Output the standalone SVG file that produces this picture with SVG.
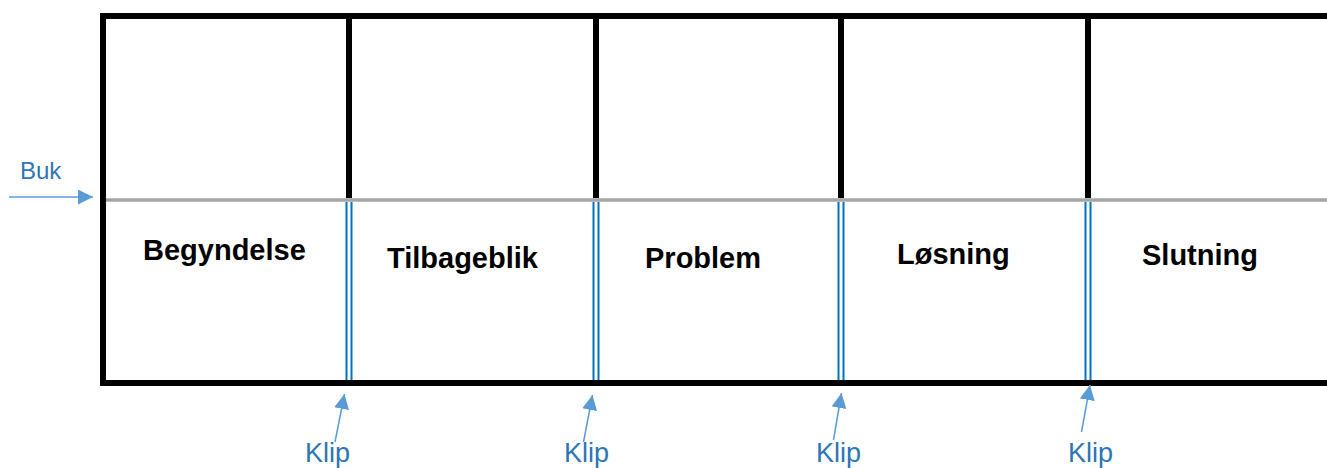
<svg xmlns="http://www.w3.org/2000/svg" width="1327" height="468" viewBox="0 0 1327 468">
<style>
.frame{stroke:#000;stroke-width:6;fill:none}
.fold{stroke:#A5A5A5;stroke-width:3.5;fill:none}
.cut{stroke:#0070C0;stroke-width:2;fill:none}
.lbl{font-family:"Liberation Sans",Arial,sans-serif;font-weight:bold;font-size:29px;fill:#000}
.note{font-family:"Liberation Sans",Arial,sans-serif;fill:#2E75B6}
.arr{stroke:#5B9BD5;stroke-width:1.5;fill:none;marker-end:url(#ah)}
</style>
<defs>
<marker id="ah" viewBox="0 0 15 15" refX="15" refY="7.5" markerWidth="15" markerHeight="15" markerUnits="userSpaceOnUse" orient="auto">
<path d="M0,0 L15,7.5 L0,15 z" fill="#5B9BD5"/>
</marker>
</defs>
<rect width="1327" height="468" fill="#fff"/>
<g id="frame">
<path class="frame" d="M1327,16 H103 V383 H1327"/>
<path class="frame" d="M349,16 V198 M596,16 V198 M841,16 V198 M1088,16 V198"/>
<line class="fold" x1="106" y1="200" x2="1327" y2="200"/>
<path class="cut" d="M346.5,202 V380 M351.5,202 V380 M593.5,202 V380 M598.5,202 V380 M838.5,202 V380 M843.5,202 V380 M1085.5,202 V380 M1090.5,202 V380"/>
</g>
<g id="panel-begyndelse"><text class="lbl" x="143" y="260">Begyndelse</text></g>
<g id="panel-tilbageblik"><text class="lbl" x="387" y="268">Tilbageblik</text></g>
<g id="panel-problem"><text class="lbl" x="645" y="268">Problem</text></g>
<g id="panel-losning"><text class="lbl" x="897" y="264">Løsning</text></g>
<g id="panel-slutning"><text class="lbl" x="1142" y="265">Slutning</text></g>
<g id="label-buk"><text class="note" x="20" y="179" font-size="24">Buk</text></g>
<g id="label-klip1"><text class="note" x="305" y="462" font-size="27">Klip</text></g>
<g id="label-klip2"><text class="note" x="564" y="462" font-size="27">Klip</text></g>
<g id="label-klip3"><text class="note" x="816" y="462" font-size="27">Klip</text></g>
<g id="label-klip4"><text class="note" x="1068" y="462" font-size="27">Klip</text></g>
<g id="connectors">
<line class="arr" x1="9" y1="197" x2="93" y2="197"/>
<line class="arr" x1="335" y1="442" x2="344.5" y2="394"/>
<line class="arr" x1="583.5" y1="442" x2="592.5" y2="395"/>
<line class="arr" x1="833.5" y1="440" x2="841.5" y2="393"/>
<line class="arr" x1="1081.5" y1="432" x2="1090" y2="385"/>
</g>
</svg>
